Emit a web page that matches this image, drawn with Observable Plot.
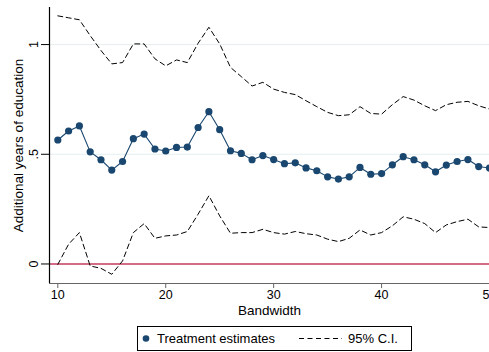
<!DOCTYPE html>
<html><head><meta charset="utf-8">
<script src="https://cdn.jsdelivr.net/npm/d3@7"></script>
<script src="https://cdn.jsdelivr.net/npm/@observablehq/plot@0.6"></script>
<style>
body{margin:0;background:#fff;font-family:"Liberation Sans",Arial,sans-serif;}
#wrap{position:relative;width:489px;height:352px;overflow:hidden;background:#fff}
#legend{position:absolute;left:137px;top:326px;width:275px;height:25px;border:1px solid #000;box-sizing:border-box;font-size:13px;color:#000}
#legend span{position:absolute;top:4px;line-height:15px;white-space:nowrap}
</style></head>
<body>
<div id="wrap">
<div id="chart"></div>
<div id="legend"></div>
</div>
<script>
const bandwidth = [10,11,12,13,14,15,16,17,18,19,20,21,22,23,24,25,26,27,28,29,30,31,32,33,34,35,36,37,38,39,40,41,42,43,44,45,46,47,48,49,50];
const estimates = [0.565,0.606,0.629,0.511,0.475,0.428,0.467,0.571,0.592,0.524,0.515,0.531,0.533,0.622,0.694,0.612,0.516,0.504,0.475,0.494,0.476,0.457,0.461,0.438,0.425,0.397,0.387,0.397,0.440,0.409,0.412,0.452,0.489,0.475,0.452,0.420,0.451,0.467,0.476,0.444,0.437];
const ciUpper = [1.131,1.122,1.113,1.041,0.973,0.912,0.918,1.003,1.003,0.935,0.903,0.930,0.918,1.006,1.079,1.003,0.896,0.854,0.811,0.828,0.797,0.782,0.772,0.744,0.717,0.691,0.676,0.680,0.717,0.686,0.683,0.726,0.763,0.747,0.721,0.699,0.726,0.737,0.741,0.721,0.706];
const ciLower = [-0.002,0.090,0.143,-0.009,-0.020,-0.047,0.014,0.143,0.184,0.117,0.128,0.132,0.148,0.227,0.311,0.219,0.140,0.143,0.143,0.158,0.143,0.136,0.148,0.138,0.132,0.113,0.102,0.117,0.155,0.132,0.143,0.174,0.215,0.204,0.184,0.143,0.178,0.193,0.204,0.169,0.166];
const xTicks = [10,20,30,40,50];
const yTicks = [0,0.5,1];
const yTickLabels = ["0",".5","1"];
const gridValues = [0.5,1];
const refValue = [0];
const xTitle = "Bandwidth";
const yTitle = "Additional years of education";
const legendLabels = ["Treatment estimates","95% C.I."];

const data = bandwidth.map((b,i)=>({b, est: estimates[i], hi: ciUpper[i], lo: ciLower[i]}));
const xDomain = [9.23, 50];
const yDomain = [-0.089, 1.169];
const navy = "#1a476f";

const plot = Plot.plot({
  width: 489,
  height: 322,
  marginLeft: 49,
  marginRight: 0,
  marginTop: 7,
  marginBottom: 39,
  style: {fontFamily: "'Liberation Sans', Arial, sans-serif", fontSize: "12.5px", background: "#fff", overflow: "visible"},
  x: {domain: xDomain},
  y: {domain: yDomain},
  marks: [
    Plot.ruleY(gridValues, {stroke: "#e6eff0", strokeWidth: 1}),
    Plot.ruleY(refValue, {stroke: "#c43c5c", strokeWidth: 1.4}),
    Plot.lineY(data, {x: "b", y: "hi", stroke: "#000", strokeWidth: 1, strokeDasharray: "5,3.5"}),
    Plot.lineY(data, {x: "b", y: "lo", stroke: "#000", strokeWidth: 1, strokeDasharray: "5,3.5"}),
    Plot.lineY(data, {x: "b", y: "est", stroke: navy, strokeWidth: 1.1}),
    Plot.dot(data, {x: "b", y: "est", r: 3.6, fill: navy, stroke: "none"}),
    Plot.ruleX([xDomain[0]], {stroke: "#000", strokeWidth: 1.2}),
    Plot.ruleY([yDomain[0]], {stroke: "#666", strokeWidth: 1.2}),
    Plot.axisX({ticks: xTicks, tickSize: 5, tickPadding: 2, fontSize: 12.5, stroke: "#666", label: xTitle, labelAnchor: "center", labelArrow: "none", labelOffset: 31}),
    Plot.axisY({ticks: yTicks, tickFormat: (d) => yTickLabels[yTicks.indexOf(d)], tickSize: 8, tickPadding: 4, tickRotate: -90, fontSize: 12.5, stroke: "#000", label: yTitle, labelAnchor: "center", labelArrow: "none", labelOffset: 36})
  ]
});
plot.querySelectorAll("[aria-label='x-axis label'] text, [aria-label='y-axis label'] text").forEach(t => t.style.fontSize = "13.5px");
document.getElementById("chart").appendChild(plot);

const legend = document.getElementById("legend");
legend.innerHTML = `
<svg width="275" height="25" style="position:absolute;left:0;top:0">
  <circle cx="8" cy="11.5" r="3.3" fill="${navy}"></circle>
  <line x1="161" x2="204" y1="11.5" y2="11.5" stroke="#000" stroke-width="1" stroke-dasharray="5,3.5"></line>
</svg>
<span style="left:19px">${legendLabels[0]}</span>
<span style="left:210px">${legendLabels[1]}</span>`;
</script>
</body></html>
